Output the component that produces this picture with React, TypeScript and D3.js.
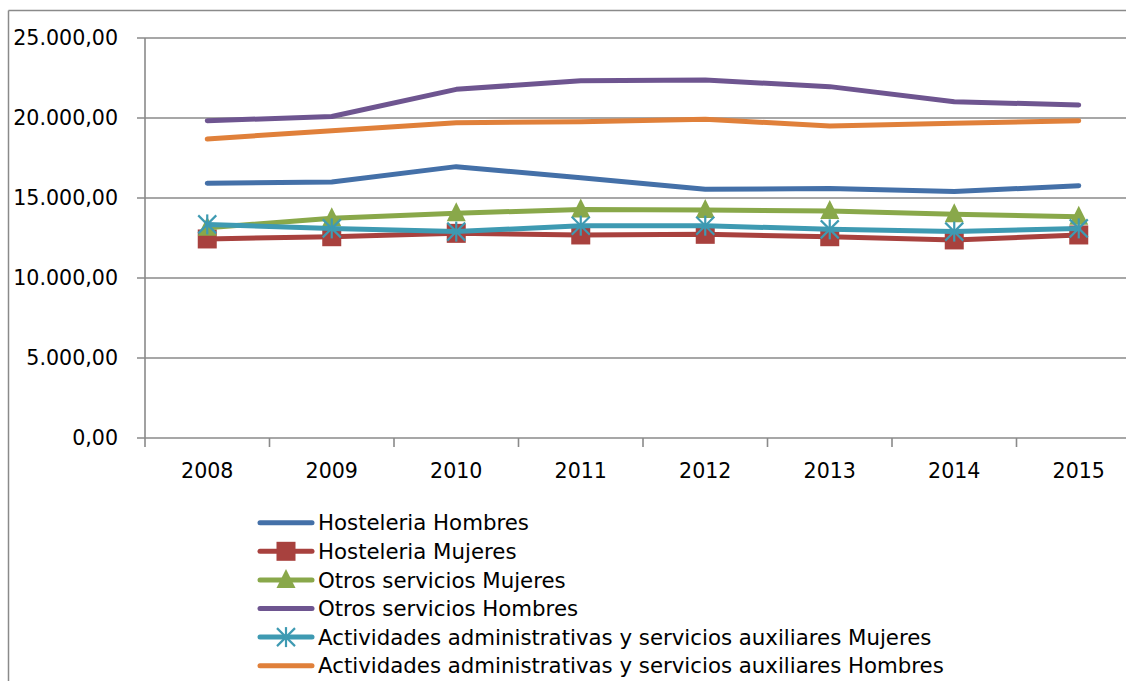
import React from "react";
import * as d3 from "d3";

const years = ["2008", "2009", "2010", "2011", "2012", "2013", "2014", "2015"];
const hosteleriaHombres = [15920, 16000, 16960, 16270, 15540, 15600, 15400, 15770];
const hosteleriaMujeres = [12440, 12580, 12790, 12690, 12730, 12580, 12380, 12690];
const otrosMujeres = [13140, 13730, 14050, 14280, 14250, 14190, 13980, 13830];
const otrosHombres = [19830, 20090, 21790, 22330, 22375, 21960, 21020, 20810];
const actividadesMujeres = [13350, 13100, 12900, 13270, 13270, 13040, 12900, 13100];
const actividadesHombres = [18690, 19210, 19710, 19770, 19920, 19500, 19670, 19830];
const yTicks = [0, 5000, 10000, 15000, 20000, 25000];

type Marker = "none" | "square" | "triangle" | "star";
const series: { name: string; values: number[]; color: string; marker: Marker }[] = [
  { name: "Hosteleria Hombres", values: hosteleriaHombres, color: "#4470a8", marker: "none" },
  { name: "Hosteleria Mujeres", values: hosteleriaMujeres, color: "#a8413e", marker: "square" },
  { name: "Otros servicios Mujeres", values: otrosMujeres, color: "#89a84a", marker: "triangle" },
  { name: "Otros servicios Hombres", values: otrosHombres, color: "#6e5590", marker: "none" },
  { name: "Actividades administrativas y servicios auxiliares Mujeres", values: actividadesMujeres, color: "#3e9ab2", marker: "star" },
  { name: "Actividades administrativas y servicios auxiliares Hombres", values: actividadesHombres, color: "#e0803a", marker: "none" },
];

const fmt = (v: number) => {
  const s = Math.round(v).toString().replace(/\B(?=(\d{3})+(?!\d))/g, ".");
  return s + ",00";
};

function MarkerShape({ type, x, y, color }: { type: Marker; x: number; y: number; color: string }) {
  if (type === "square") {
    return <rect x={x - 9.5} y={y - 9.5} width={19} height={19} fill={color} />;
  }
  if (type === "triangle") {
    return <path d={`M${x},${y - 11}L${x + 9.5},${y + 8}L${x - 9.5},${y + 8}Z`} fill={color} />;
  }
  if (type === "star") {
    const r = 9;
    return (
      <g stroke={color} strokeWidth={2.2}>
        <line x1={x - r} y1={y - r} x2={x + r} y2={y + r} />
        <line x1={x - r} y1={y + r} x2={x + r} y2={y - r} />
        <line x1={x} y1={y - r - 1} x2={x} y2={y + r + 1} />
      </g>
    );
  }
  return null;
}

export default function App() {
  const W = 1126, H = 681;
  const left = 145, top = 38, bottom = 438;
  const step = 124.5;
  const x = d3.scaleBand<string>().domain(years).range([left, left + step * years.length]);
  const y = d3.scaleLinear().domain([0, 25000]).range([bottom, top]);
  const line = d3
    .line<number>()
    .x((_, i) => (x(years[i]) as number) + x.bandwidth() / 2)
    .y((d) => y(d));
  const font = "'DejaVu Sans', sans-serif";
  const fs = 20.6;
  const legendFs = 21.3;
  const grid = "#8a8a8a";
  const legendY0 = 522.7, legendStep = 28.6;

  return (
    <svg width={W} height={H} style={{ position: "absolute", left: 0, top: 0, background: "#fff" }} fontFamily={font}>
      <rect x={0} y={0} width={W} height={H} fill="#fff" />
      {/* outer border */}
      <line x1={8.5} y1={10.5} x2={8.5} y2={H} stroke={grid} strokeWidth={1.5} />
      <line x1={8.5} y1={10.5} x2={W} y2={10.5} stroke={grid} strokeWidth={1.5} />
      {/* gridlines */}
      {yTicks.map((t) => (
        <g key={t}>
          <line x1={left - 8} x2={W} y1={y(t)} y2={y(t)} stroke={grid} strokeWidth={1.6} />
          <text x={118} y={y(t)} dy="0.36em" textAnchor="end" fontSize={fs} fill="#000">
            {fmt(t)}
          </text>
        </g>
      ))}
      {/* axes */}
      <line x1={left} x2={left} y1={top} y2={bottom} stroke={grid} strokeWidth={1.6} />
      {years.map((yr, i) => (
        <line key={yr} x1={left + step * i} x2={left + step * i} y1={bottom} y2={bottom + 9} stroke={grid} strokeWidth={1.6} />
      ))}
      {years.map((yr) => (
        <text key={yr} x={(x(yr) as number) + x.bandwidth() / 2} y={471} dy="0.36em" textAnchor="middle" fontSize={fs} fill="#000">
          {yr}
        </text>
      ))}
      {/* series */}
      {series.map((s) => (
        <g key={s.name}>
          <path d={line(s.values) || ""} fill="none" stroke={s.color} strokeWidth={5} strokeLinecap="round" strokeLinejoin="round" />
          {s.values.map((v, i) => (
            <MarkerShape key={i} type={s.marker} x={(x(years[i]) as number) + x.bandwidth() / 2} y={y(v)} color={s.color} />
          ))}
        </g>
      ))}
      {/* legend */}
      {series.map((s, i) => {
        const ly = legendY0 + legendStep * i;
        return (
          <g key={s.name}>
            <line x1={260} x2={312} y1={ly} y2={ly} stroke={s.color} strokeWidth={5} strokeLinecap="round" />
            <MarkerShape type={s.marker} x={286} y={ly} color={s.color} />
            <text x={318} y={ly} dy="0.36em" fontSize={legendFs} fill="#000">
              {s.name}
            </text>
          </g>
        );
      })}
    </svg>
  );
}
